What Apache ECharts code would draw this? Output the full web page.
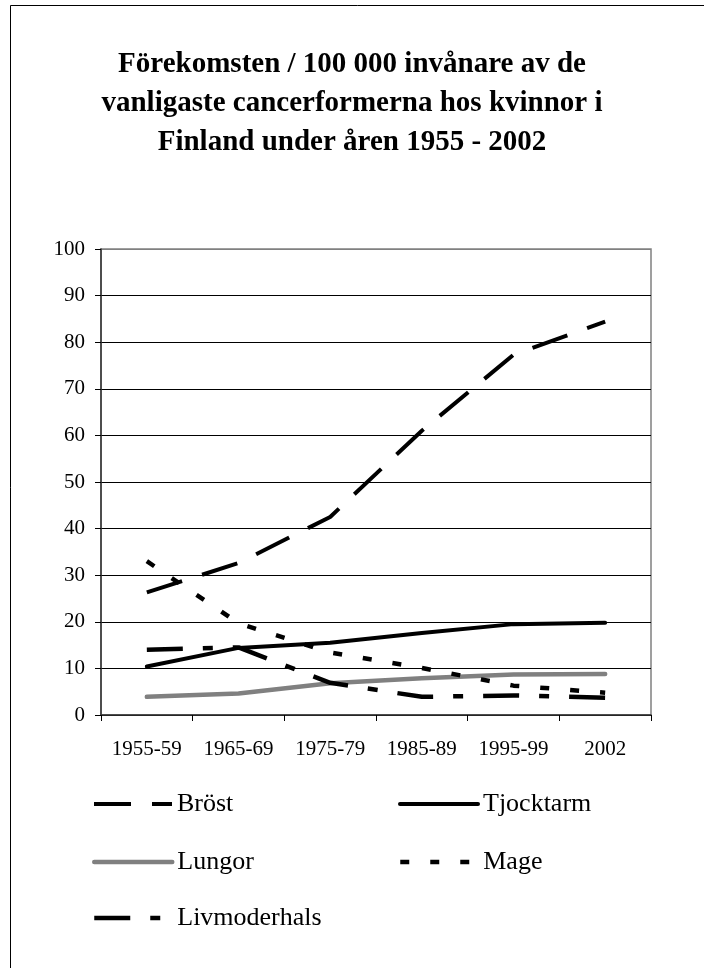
<!DOCTYPE html>
<html>
<head>
<meta charset="utf-8">
<script src="https://cdn.jsdelivr.net/npm/echarts@6/dist/echarts.min.js"></script>
<style>
html,body{margin:0;padding:0;background:#fff;}
#chart{width:704px;height:968px;}
</style>
</head>
<body>
<div id="chart"></div>
<script>
var categories = ['1955-59', '1965-69', '1975-79', '1985-89', '1995-99', '2002'];
var brost = [26.3, 32.6, 42.5, 61.0, 77.3, 84.4];
var tjocktarm = [10.4, 14.4, 15.5, 17.6, 19.5, 19.8];
var lungor = [3.9, 4.6, 6.8, 7.9, 8.7, 8.8];
var mage = [33.0, 19.7, 13.4, 10.1, 6.3, 4.8];
var livmoderhals = [14.0, 14.5, 6.9, 3.9, 4.2, 3.7];
var yTicks = [0, 100, 10];

var FONT = '"Liberation Serif", "Times New Roman", serif';
var chart = echarts.init(document.getElementById('chart'));

var styles = {
  'Bröst':        { color: '#000',    width: 4,   type: [37, 21],         cap: 'butt' },
  'Tjocktarm':    { color: '#000',    width: 4,   type: 'solid',          cap: 'round' },
  'Lungor':       { color: '#808080', width: 4.5, type: 'solid',          cap: 'round' },
  'Mage':         { color: '#000',    width: 4.5, type: [9, 21],          cap: 'butt' },
  'Livmoderhals': { color: '#000',    width: 4.5, type: [36, 20, 10, 20], cap: 'butt' }
};

function legendAt(name, left, top) {
  var s = styles[name];
  return {
    data: [name], left: left, top: top, padding: 0,
    itemWidth: 78, itemHeight: 14, selectedMode: false,
    itemStyle: { opacity: 0 },
    lineStyle: { color: s.color, width: s.width, type: s.type, cap: s.cap },
    textStyle: { fontFamily: FONT, fontSize: 26, color: '#000' }
  };
}

function lineSeries(name, data) {
  var s = styles[name];
  return {
    name: name, type: 'line', data: data, symbol: 'none',
    lineStyle: { color: s.color, width: s.width, type: s.type, cap: s.cap },
    itemStyle: { color: s.color }
  };
}

chart.setOption({
  backgroundColor: '#fff',
  animation: false,
  title: {
    text: 'Förekomsten / 100 000 invånare av de\nvanligaste cancerformerna hos kvinnor i\nFinland under åren 1955 - 2002',
    left: 'center', top: 40,
    textStyle: { fontFamily: FONT, fontWeight: 'bold', fontSize: 29, lineHeight: 39, color: '#000' }
  },
  graphic: [{
    type: 'rect', left: 8, top: 3, silent: true,
    shape: { width: 695, height: 1000 },
    style: { fill: 'none', stroke: '#000', lineWidth: 1 }
  }],
  legend: [
    legendAt('Bröst', 92, 791),
    legendAt('Tjocktarm', 398, 791),
    legendAt('Lungor', 92, 849),
    legendAt('Mage', 398, 849),
    legendAt('Livmoderhals', 92, 905)
  ],
  grid: {
    left: 101, top: 249, right: 53, bottom: 253,
    show: true, borderColor: '#808080', borderWidth: 1.5, backgroundColor: 'transparent'
  },
  xAxis: {
    type: 'category', data: categories, boundaryGap: true,
    axisLine: { lineStyle: { color: '#333', width: 1.5 } },
    axisTick: { show: true, length: 6, lineStyle: { color: '#000' } },
    axisLabel: { fontFamily: FONT, fontSize: 21, color: '#000', margin: 24 },
    splitLine: { show: false }
  },
  yAxis: {
    type: 'value', min: yTicks[0], max: yTicks[1], interval: yTicks[2],
    axisLine: { show: true, lineStyle: { color: '#333', width: 1.5 } },
    axisTick: { show: true, length: 6, lineStyle: { color: '#000' } },
    axisLabel: { fontFamily: FONT, fontSize: 21, color: '#000', margin: 16 },
    splitLine: { show: true, lineStyle: {
      color: ['#000', '#000', '#000', '#000', '#000', '#000', '#000', '#000', '#000', '#000', '#808080'],
      width: 1 } }
  },
  series: [
    lineSeries('Bröst', brost),
    lineSeries('Tjocktarm', tjocktarm),
    lineSeries('Lungor', lungor),
    lineSeries('Mage', mage),
    lineSeries('Livmoderhals', livmoderhals)
  ]
});
</script>
</body>
</html>
